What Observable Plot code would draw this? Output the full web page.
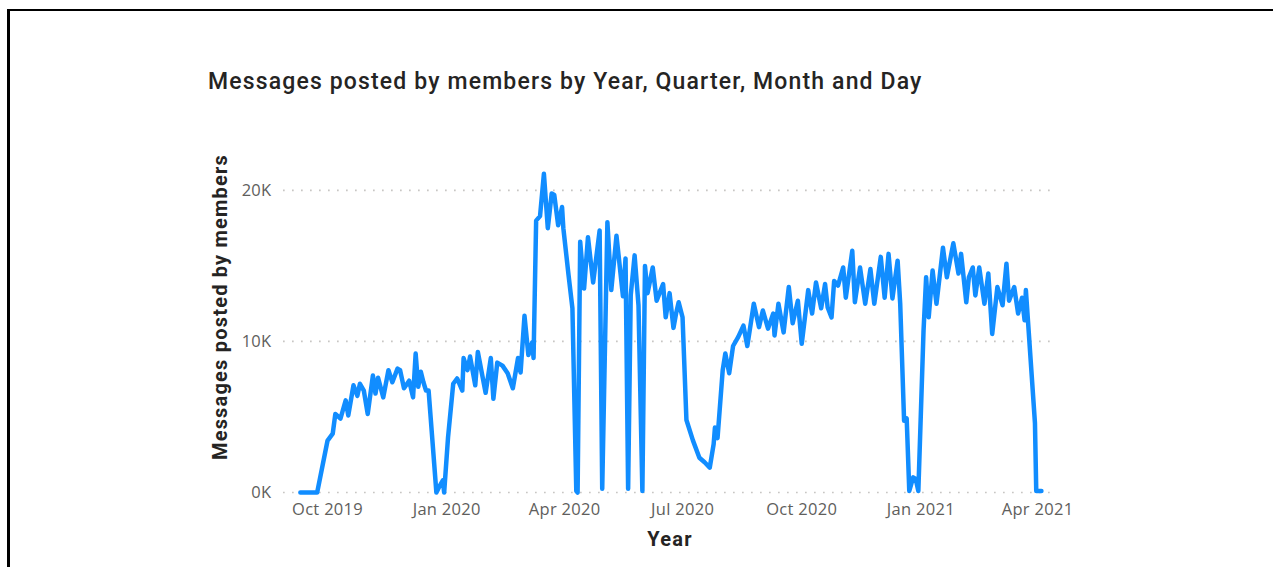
<!DOCTYPE html>
<html><head><meta charset="utf-8">
<script src="https://cdn.jsdelivr.net/npm/d3@7"></script>
<script src="https://cdn.jsdelivr.net/npm/@observablehq/plot@0.6"></script>
<style>
html,body{margin:0;padding:0;background:#fff;}
#wrap{position:relative;width:1273px;height:567px;overflow:hidden;background:#fff;}
#frame{position:absolute;left:7px;top:9px;width:1300px;height:600px;border-top:2px solid #000;border-left:3px solid #000;}
#title{position:absolute;left:208px;top:68px;font:500 23px Roboto;letter-spacing:1.15px;color:#252423;white-space:nowrap;line-height:28px;}
#ytitle{position:absolute;left:220px;top:307px;transform:translate(-50%,-50%) rotate(-90deg);font:bold 20px Roboto;letter-spacing:1.2px;color:#252423;white-space:nowrap;}
#xtitle{position:absolute;left:670px;top:539px;transform:translate(-50%,-50%);font:bold 20px Roboto;letter-spacing:1.2px;color:#252423;white-space:nowrap;}
#chart{position:absolute;left:0;top:0;}
</style></head>
<body>
<div id="wrap">
  <div id="frame"></div>
  <div id="chart"></div>
  <div id="title">Messages posted by members by Year, Quarter, Month and Day</div>
  <div id="ytitle">Messages posted by members</div>
  <div id="xtitle">Year</div>
</div>
<script>
const dates = [
 "2019-09-10","2019-09-23","2019-10-01","2019-10-05","2019-10-07","2019-10-11","2019-10-15","2019-10-17","2019-10-21","2019-10-24",
 "2019-10-26","2019-10-29","2019-11-01","2019-11-05","2019-11-07","2019-11-09","2019-11-13","2019-11-17","2019-11-20","2019-11-24",
 "2019-11-26","2019-11-29","2019-12-03","2019-12-06","2019-12-08","2019-12-10","2019-12-12","2019-12-14","2019-12-16","2019-12-18",
 "2019-12-24","2019-12-26","2019-12-29","2019-12-30","2020-01-02","2020-01-06","2020-01-09","2020-01-13","2020-01-14","2020-01-17",
 "2020-01-19","2020-01-23","2020-01-25","2020-01-31","2020-02-04","2020-02-06","2020-02-09","2020-02-13","2020-02-17","2020-02-21",
 "2020-02-25","2020-02-27","2020-03-01","2020-03-04","2020-03-07","2020-03-08","2020-03-10","2020-03-13","2020-03-16","2020-03-19",
 "2020-03-22","2020-03-24","2020-03-27","2020-03-30","2020-03-31","2020-04-04","2020-04-07","2020-04-10","2020-04-11","2020-04-13",
 "2020-04-16","2020-04-19","2020-04-23","2020-04-28","2020-04-30","2020-05-04","2020-05-07","2020-05-11","2020-05-16","2020-05-18",
 "2020-05-20","2020-05-22","2020-05-25","2020-05-28","2020-05-31","2020-06-02","2020-06-04","2020-06-08","2020-06-11","2020-06-16",
 "2020-06-18","2020-06-21","2020-06-24","2020-06-26","2020-06-28","2020-07-01","2020-07-04","2020-07-09","2020-07-14","2020-07-18",
 "2020-07-22","2020-07-25","2020-07-26","2020-07-28","2020-08-01","2020-08-03","2020-08-06","2020-08-09","2020-08-13","2020-08-17",
 "2020-08-20","2020-08-25","2020-08-29","2020-09-01","2020-09-05","2020-09-09","2020-09-10","2020-09-13","2020-09-17","2020-09-21",
 "2020-09-24","2020-09-28","2020-10-01","2020-10-06","2020-10-09","2020-10-12","2020-10-16","2020-10-19","2020-10-21","2020-10-24",
 "2020-10-26","2020-10-29","2020-11-02","2020-11-04","2020-11-09","2020-11-11","2020-11-15","2020-11-19","2020-11-23","2020-11-26",
 "2020-12-01","2020-12-04","2020-12-07","2020-12-10","2020-12-14","2020-12-16","2020-12-19","2020-12-21","2020-12-23","2020-12-26",
 "2020-12-28","2020-12-30","2021-01-03","2021-01-05","2021-01-07","2021-01-10","2021-01-13","2021-01-18","2021-01-21","2021-01-26",
 "2021-01-30","2021-02-01","2021-02-05","2021-02-07","2021-02-10","2021-02-12","2021-02-15","2021-02-19","2021-02-22","2021-02-25",
 "2021-03-01","2021-03-05","2021-03-08","2021-03-10","2021-03-14","2021-03-17","2021-03-20","2021-03-22","2021-03-23","2021-03-30",
 "2021-03-31","2021-04-04"
];
const messages = [
 0,0,3440,3900,5200,4900,6100,5100,7100,6400,
 7200,6750,5200,7750,6550,7600,6300,8100,7300,8200,
 8100,6900,7400,6300,9200,7000,8000,7300,6750,6750,
 0,350,800,0,3650,7200,7550,6750,8900,8100,
 9000,7100,9300,6600,8900,6200,8600,8400,7900,6900,
 8900,7950,11700,9100,9950,8900,18000,18300,21100,17500,
 19800,19700,17700,18900,17500,14400,12200,100,0,16600,
 13500,16900,13900,17350,250,17900,13400,17000,13000,15500,
 250,13050,15700,12400,100,15000,13200,14900,12700,13800,
 11600,13200,10900,11850,12600,11600,4800,3450,2300,2000,
 1650,3200,4300,3600,8100,9200,7900,9700,10300,11050,
 9700,12500,10950,12050,10850,11850,10400,12500,10600,13600,
 11200,12700,9850,13400,11850,13900,12200,13800,12250,11600,
 14000,13700,14900,12900,16000,12600,14900,12500,14800,12500,
 15600,12900,15800,12850,15350,12500,4750,4900,100,1000,
 900,100,10700,14250,11600,14700,12500,16200,14250,16500,
 14500,15800,12600,14250,14900,13050,14900,12500,14500,10500,
 13600,12400,15150,12700,13600,11850,12900,11400,13400,4600,
 100,100
];
const xTicks = ["2019-10-01","2020-01-01","2020-04-01","2020-07-01","2020-10-01","2021-01-01","2021-04-01"];
const yTicks = [0, 10000, 20000];
const yTickLabels = ["0K", "10K", "20K"];
const xDomain = ["2019-08-28", "2021-04-11"];
const yMax = 21320;

const parse = d3.utcParse("%Y-%m-%d");
const data = dates.map((d, i) => ({date: parse(d), value: messages[i]}));

const plot = Plot.plot({
  width: 1273, height: 567,
  marginLeft: 283, marginRight: 223, marginTop: 170, marginBottom: 75,
  style: {fontFamily: "'Open Sans', sans-serif", fontSize: "16.5px", letterSpacing: "0.3px", color: "#605E5C", background: "transparent", overflow: "visible"},
  x: {type: "utc", domain: xDomain.map(parse)},
  y: {domain: [0, yMax]},
  marks: [
    Plot.ruleY(yTicks, {stroke: "#C8C6C4", strokeWidth: 1.7, strokeDasharray: "1.7,7.3"}),
    Plot.axisY(yTicks, {tickSize: 0, tickPadding: 12, tickFormat: d => yTickLabels[yTicks.indexOf(d)], label: null, fill: "#605E5C"}),
    Plot.axisX(xTicks.map(parse), {tickSize: 0, tickPadding: 11, tickFormat: d3.utcFormat("%b %Y"), label: null, fill: "#605E5C"}),
    Plot.line(data, {x: "date", y: "value", stroke: "#118DFF", strokeWidth: 4.5, strokeLinejoin: "round", strokeLinecap: "round"})
  ]
});
document.getElementById("chart").appendChild(plot);
</script>
</body></html>
